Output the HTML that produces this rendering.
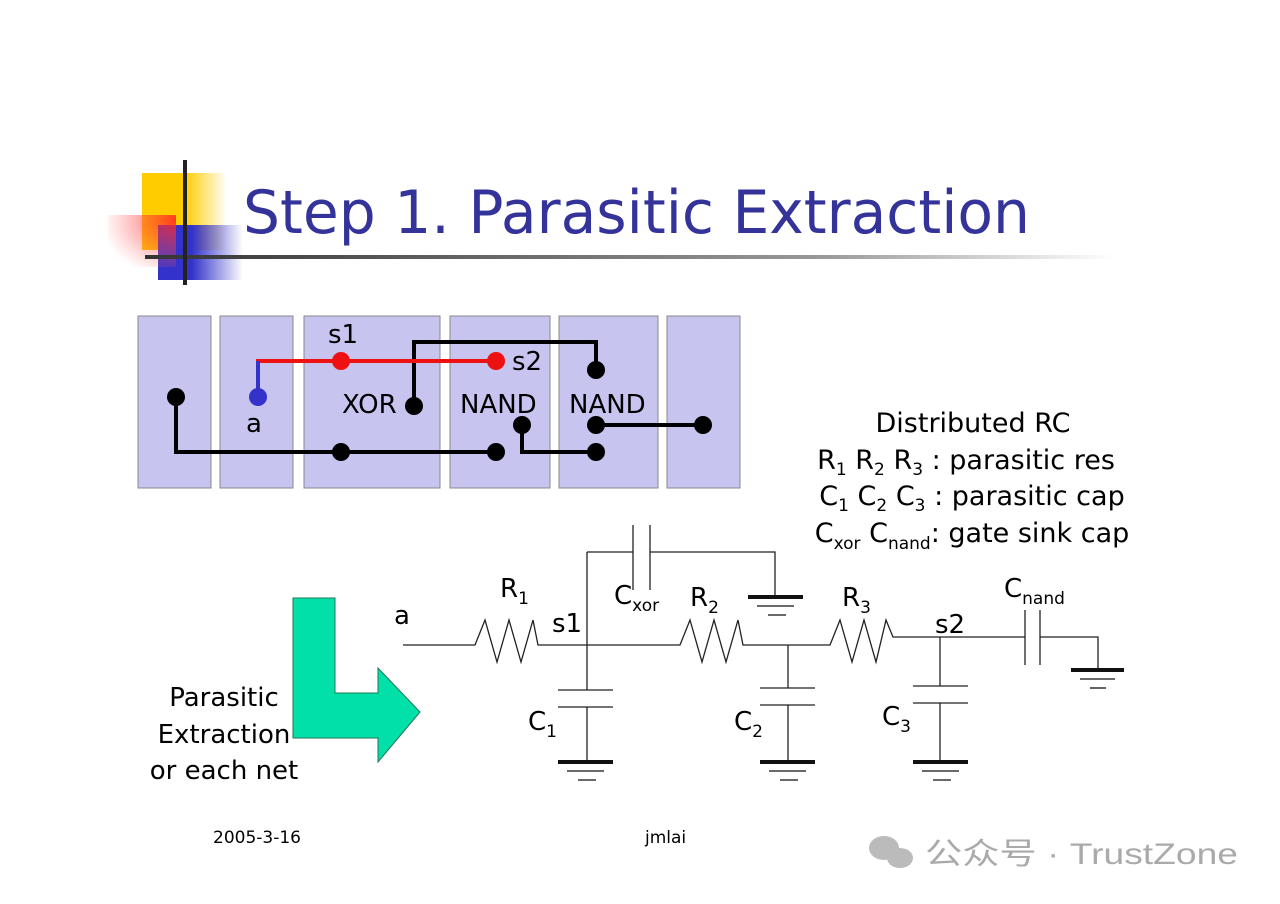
<!DOCTYPE html>
<html><head><meta charset="utf-8"><style>
html,body{margin:0;padding:0;background:#fff;}
body{width:1280px;height:904px;position:relative;overflow:hidden;font-family:"DejaVu Sans","Liberation Sans",sans-serif;}
svg{position:absolute;left:0;top:0;}
</style></head><body>
<svg width="1280" height="904" viewBox="0 0 1280 904" xmlns="http://www.w3.org/2000/svg">
<defs>
<linearGradient id="gy" x1="0" x2="1"><stop offset="0.5" stop-color="#ffcc00"/><stop offset="1" stop-color="#ffcc00" stop-opacity="0"/></linearGradient>
<linearGradient id="gb" x1="0" x2="1"><stop offset="0.4" stop-color="#3333cc"/><stop offset="1" stop-color="#3333cc" stop-opacity="0"/></linearGradient>
<radialGradient id="gr" cx="1" cy="0.1" r="1.1"><stop offset="0" stop-color="#ff2020"/><stop offset="1" stop-color="#ff6060" stop-opacity="0"/></radialGradient>
<linearGradient id="gl" x1="0" x2="1"><stop offset="0" stop-color="#333"/><stop offset="0.7" stop-color="#999"/><stop offset="1" stop-color="#fff"/></linearGradient>
</defs>
<rect x="142" y="173" width="85" height="77" fill="url(#gy)"/>
<rect x="158" y="225" width="85" height="55" fill="url(#gb)"/>
<rect x="108" y="215" width="68" height="52" fill="url(#gr)" opacity="0.85"/>
<rect x="145" y="255" width="970" height="4" fill="url(#gl)"/>
<rect x="183" y="160" width="4" height="125" fill="#222"/>
<text x="243" y="233" font-family="DejaVu Sans, Liberation Sans, sans-serif" font-size="60" fill="#333399" textLength="787" lengthAdjust="spacingAndGlyphs">Step 1. Parasitic Extraction</text>

<g fill="#c8c4f0" stroke="#888" stroke-width="1">
<rect x="138" y="316" width="73" height="172"/><rect x="220" y="316" width="73" height="172"/>
<rect x="304" y="316" width="136" height="172"/><rect x="450" y="316" width="100" height="172"/>
<rect x="559" y="316" width="99" height="172"/><rect x="667" y="316" width="73" height="172"/>
</g>
<g fill="none" stroke="#000" stroke-width="4">
<polyline points="176,397 176,452 496,452"/>
<polyline points="414,406 414,342 596,342 596,370"/>
<polyline points="522,425 522,452 596,452"/>
<polyline points="596,425 703,425"/>
</g>
<polyline points="258,397 258,361 496,361" fill="none" stroke="#ee1111" stroke-width="4"/>
<line x1="258" y1="361" x2="258" y2="397" stroke="#3333cc" stroke-width="4"/>
<g fill="#000">
<circle cx="176" cy="397" r="9"/><circle cx="341" cy="452" r="9"/><circle cx="496" cy="452" r="9"/>
<circle cx="414" cy="406" r="9"/><circle cx="596" cy="370" r="9"/><circle cx="522" cy="425" r="9"/>
<circle cx="596" cy="425" r="9"/><circle cx="596" cy="452" r="9"/><circle cx="703" cy="425" r="9"/>
</g>
<circle cx="341" cy="361" r="9" fill="#ee1111"/><circle cx="496" cy="361" r="9" fill="#ee1111"/>
<circle cx="258" cy="397" r="9" fill="#3333cc"/>
<g font-size="26" fill="#000" font-family="DejaVu Sans, sans-serif">
<text x="328" y="343">s1</text><text x="512" y="370">s2</text><text x="246" y="432">a</text>
<text x="342" y="413">XOR</text><text x="460" y="413">NAND</text><text x="569" y="413">NAND</text>
</g>

<g font-size="27" fill="#000" font-family="DejaVu Sans, sans-serif" text-anchor="middle">
<text x="973" y="432">Distributed RC</text>
<text x="966" y="469">R<tspan font-size="17" dy="6">1</tspan><tspan dy="-6"> R</tspan><tspan font-size="17" dy="6">2</tspan><tspan dy="-6"> R</tspan><tspan font-size="17" dy="6">3</tspan><tspan dy="-6"> : parasitic res</tspan></text>
<text x="972" y="505">C<tspan font-size="17" dy="6">1</tspan><tspan dy="-6"> C</tspan><tspan font-size="17" dy="6">2</tspan><tspan dy="-6"> C</tspan><tspan font-size="17" dy="6">3</tspan><tspan dy="-6"> : parasitic cap</tspan></text>
<text x="972" y="542">C<tspan font-size="17" dy="7">xor</tspan><tspan dy="-7"> C</tspan><tspan font-size="17" dy="7">nand</tspan><tspan dy="-7">: gate sink cap</tspan></text>
</g>

<g fill="none" stroke="#222" stroke-width="1.3">
<polyline points="403,645 475,645 485,620 497,662 509,620 521,662 533,620 538,645 680,645 690,620 702,662 714,620 726,662 738,620 743,645 830,645 840,620 852,662 864,620 876,662 886,620 893,637 985,637"/>
<line x1="587" y1="552" x2="587" y2="690"/>
<polyline points="587,552 633,552"/><line x1="633" y1="525" x2="633" y2="590"/><line x1="650" y1="525" x2="650" y2="590"/>
<polyline points="650,552 775,552 775,597"/>
<line x1="558" y1="690" x2="613" y2="690"/><line x1="558" y1="707" x2="613" y2="707"/><line x1="587" y1="707" x2="587" y2="762"/>
<line x1="788" y1="645" x2="788" y2="688"/><line x1="760" y1="688" x2="815" y2="688"/><line x1="760" y1="705" x2="815" y2="705"/><line x1="788" y1="705" x2="788" y2="762"/>
<line x1="940" y1="637" x2="940" y2="686"/><line x1="913" y1="686" x2="968" y2="686"/><line x1="913" y1="703" x2="968" y2="703"/><line x1="940" y1="703" x2="940" y2="762"/>
<polyline points="985,637 1025,637"/><line x1="1025" y1="610" x2="1025" y2="665"/><line x1="1040" y1="610" x2="1040" y2="665"/>
<polyline points="1040,637 1098,637 1098,670"/>
</g>
<g stroke="#111">
<g stroke-width="4"><line x1="558" y1="762" x2="613" y2="762"/><line x1="760" y1="762" x2="815" y2="762"/><line x1="913" y1="762" x2="968" y2="762"/><line x1="748" y1="597" x2="803" y2="597"/><line x1="1071" y1="670" x2="1124" y2="670"/></g>
<g stroke-width="1.3"><line x1="567" y1="771" x2="604" y2="771"/><line x1="578" y1="780" x2="596" y2="780"/>
<line x1="769" y1="771" x2="806" y2="771"/><line x1="780" y1="780" x2="798" y2="780"/>
<line x1="922" y1="771" x2="959" y2="771"/><line x1="933" y1="780" x2="951" y2="780"/>
<line x1="757" y1="606" x2="794" y2="606"/><line x1="768" y1="615" x2="786" y2="615"/>
<line x1="1080" y1="679" x2="1115" y2="679"/><line x1="1090" y1="688" x2="1106" y2="688"/></g>
</g>
<g font-size="26" fill="#000" font-family="DejaVu Sans, sans-serif">
<text x="394" y="624">a</text><text x="552" y="632">s1</text><text x="935" y="633">s2</text>
<text x="500" y="597">R<tspan font-size="17" dy="7">1</tspan></text>
<text x="690" y="606">R<tspan font-size="17" dy="7">2</tspan></text>
<text x="842" y="606">R<tspan font-size="17" dy="7">3</tspan></text>
<text x="614" y="604">C<tspan font-size="17" dy="7">xor</tspan></text>
<text x="1004" y="597">C<tspan font-size="17" dy="7">nand</tspan></text>
<text x="528" y="730">C<tspan font-size="17" dy="7">1</tspan></text>
<text x="734" y="730">C<tspan font-size="17" dy="7">2</tspan></text>
<text x="882" y="725">C<tspan font-size="17" dy="7">3</tspan></text>
</g>

<polygon points="293,598 335,598 335,693 378,693 378,668 420,712 378,762 378,738 293,738" fill="#00e0a8" stroke="#227755" stroke-width="1"/>
<g font-size="26" fill="#000" font-family="DejaVu Sans, sans-serif" text-anchor="middle">
<text x="224" y="706">Parasitic</text><text x="224" y="743">Extraction</text><text x="224" y="779">or each net</text>
</g>

<text x="213" y="843" font-size="17" fill="#000">2005-3-16</text>
<text x="645" y="843" font-size="17" fill="#000">jmlai</text>
<g fill="#bbb"><ellipse cx="884" cy="848" rx="15" ry="12"/><ellipse cx="900" cy="858" rx="13" ry="10"/></g>
<text x="925" y="864" font-size="30" fill="#aaa" font-family="Liberation Sans, Noto Sans CJK SC, sans-serif" textLength="313" lengthAdjust="spacingAndGlyphs">公众号 · TrustZone</text>
</svg>
</body></html>
